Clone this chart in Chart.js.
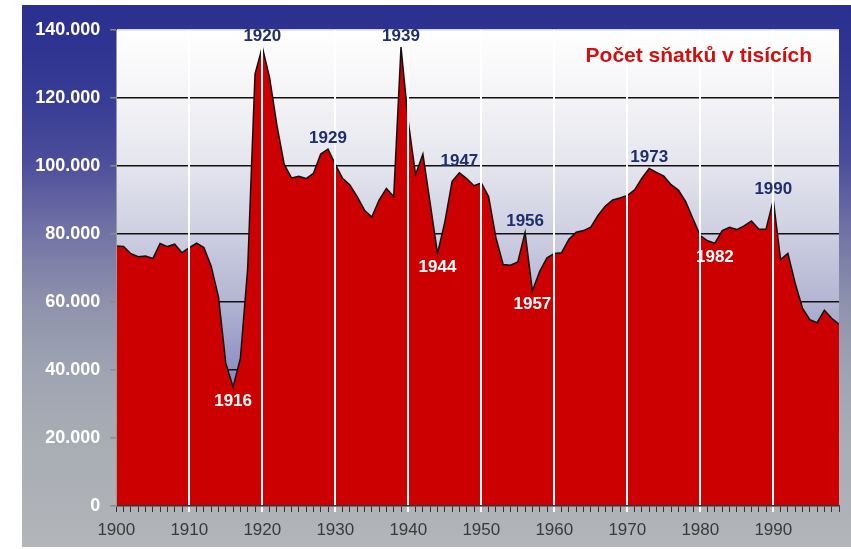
<!DOCTYPE html>
<html><head><meta charset="utf-8">
<script src="https://cdn.jsdelivr.net/npm/chart.js@4"></script>
<style>
html,body{margin:0;padding:0;background:#ffffff;}
#panel{position:absolute;left:22px;top:5px;width:829px;height:542px;
background:linear-gradient(to bottom,#2b2f8e 0%,#2f3492 8%,#383d95 18%,#4c4e9a 29%,#6d6ea4 40%,#8c90ab 54%,#9ea3b2 67%,#a8adb4 80%,#b2b5b9 100%);}
#c{display:block;}
</style></head><body>
<div id="panel"><canvas id="c" width="829" height="542"></canvas></div>
<script>
const years = [];
for (let y = 1900; y <= 1999; y++) years.push(y);

// Počet sňatků (v tisících)
const marriages = [
  76.5, 76.3, 74.2, 73.3, 73.5, 72.8, 77.2, 76.3, 77.0, 74.5,   // 1900-1909
  76.0, 77.3, 76.0, 70.5, 61.5, 42.0, 35.0, 43.5, 70.0, 127.0,  // 1910-1919
  135.0, 126.0, 112.0, 100.5, 96.5, 97.0, 96.3, 97.8, 103.5, 105.0, // 1920-1929
  100.5, 96.4, 94.4, 91.0, 87.0, 85.0, 90.0, 93.4, 91.0, 135.0, // 1930-1939
  113.0, 97.5, 103.5, 89.0, 74.3, 83.5, 95.5, 98.0, 96.3, 94.2, // 1940-1949
  95.0, 91.0, 79.0, 71.0, 70.8, 71.8, 80.5, 63.3, 69.0, 73.0,   // 1950-1959
  74.3, 74.5, 78.5, 80.5, 81.0, 82.0, 85.5, 88.2, 90.0, 90.6,   // 1960-1969
  91.3, 93.0, 96.4, 99.3, 98.1, 97.0, 94.5, 92.9, 89.5, 84.5,   // 1970-1979
  79.5, 78.0, 77.3, 81.0, 82.0, 81.3, 82.4, 83.8, 81.5, 81.4,   // 1980-1989
  90.0, 72.5, 74.3, 65.5, 58.2, 54.8, 53.9, 57.6, 55.2, 53.5    // 1990-1999
];

const yTickLabels = ['0', '20.000', '40.000', '60.000', '80.000', '100.000', '120.000', '140.000'];
const xTickLabels = ['1900', '1910', '1920', '1930', '1940', '1950', '1960', '1970', '1980', '1990'];
const peakYears = [1920, 1929, 1939, 1947, 1956, 1973, 1990];
const troughYears = [1916, 1944, 1957, 1982];
const chartTitle = 'Počet sňatků v tisících';

const FONT = '"Liberation Sans", Arial, Helvetica, sans-serif';

const plotBg = {
  id: 'plotBg',
  beforeDraw(chart) {
    const {ctx, chartArea: a} = chart;
    const g = ctx.createLinearGradient(0, a.top, 0, a.bottom);
    g.addColorStop(0, '#ffffff');
    g.addColorStop(0.15, '#f3f3f6');
    g.addColorStop(0.28, '#e5e6ee');
    g.addColorStop(0.42, '#cfd0e2');
    g.addColorStop(0.57, '#b3b5d3');
    g.addColorStop(0.71, '#8f91c2');
    g.addColorStop(0.8, '#7d80b9');
    g.addColorStop(1, '#6c6fb1');
    ctx.save();
    ctx.fillStyle = g;
    ctx.fillRect(a.left, a.top, a.right - a.left, a.bottom - a.top);
    ctx.restore();
  }
};

const annotate = {
  id: 'annotate',
  afterDraw(chart) {
    const {ctx, chartArea: a} = chart;
    const xs = chart.scales.x, ys = chart.scales.y;
    ctx.save();
    ctx.textAlign = 'center';
    ctx.textBaseline = 'middle';
    ctx.font = 'bold 17px ' + FONT;
    ctx.fillStyle = '#1f2d6c';
    peakYears.forEach(yr => {
      const v = marriages[years.indexOf(yr)];
      ctx.fillText(String(yr), xs.getPixelForValue(yr), ys.getPixelForValue(v) - 11);
    });
    ctx.fillStyle = '#ffffff';
    troughYears.forEach(yr => {
      const v = marriages[years.indexOf(yr)];
      ctx.fillText(String(yr), xs.getPixelForValue(yr), ys.getPixelForValue(v) + 14);
    });
    ctx.font = 'bold 21px ' + FONT;
    ctx.fillStyle = '#d01010';
    ctx.textAlign = 'right';
    ctx.fillText(chartTitle, a.right - 27, a.top + 26);
    ctx.restore();
  }
};

const isDecade = c => c.tick && c.tick.value % 10 === 0 && c.tick.value > 1900;

new Chart(document.getElementById('c'), {
  type: 'line',
  data: {
    datasets: [{
      data: years.map((y, i) => ({x: y, y: marriages[i]})),
      fill: 'origin',
      backgroundColor: '#cc0000',
      borderColor: '#111111',
      borderWidth: 1.5,
      pointRadius: 0,
      tension: 0
    }]
  },
  options: {
    responsive: false,
    animation: false,
    layout: {padding: {top: 25, right: 12, left: 0, bottom: 0}},
    plugins: {legend: {display: false}, tooltip: {enabled: false}, title: {display: false}},
    scales: {
      x: {
        type: 'linear', min: 1900, max: 1999,
        afterFit: s => { s.height = 41; },
        ticks: {
          stepSize: 1, autoSkip: false, maxRotation: 0, minRotation: 0, padding: 8,
          color: '#3a3a3a', font: {family: FONT, size: 17},
          callback: v => (v % 10 === 0 ? xTickLabels[(v - 1900) / 10] : '')
        },
        grid: {
          z: 1, drawTicks: true, tickLength: 6,
          color: c => isDecade(c) ? '#ffffff' : 'rgba(0,0,0,0)',
          lineWidth: c => isDecade(c) ? 2 : 1,
          tickColor: c => isDecade(c) ? '#ffffff' : '#333333'
        },
        border: {display: true, color: '#333333', width: 1.5, z: 1}
      },
      y: {
        min: 0, max: 140,
        afterFit: s => { s.width = 94.3; },
        ticks: {
          stepSize: 20, padding: 10, color: '#ffffff',
          font: {family: FONT, size: 18, weight: 'bold'},
          callback: v => yTickLabels[Math.round(v / 20)]
        },
        grid: {
          tickLength: 6, tickColor: '#8a8a8a', lineWidth: 1.5,
          color: c => (c.tick && c.tick.value === 0) ? 'rgba(0,0,0,0)' : (c.tick && c.tick.value === 140 ? '#d4d4dc' : '#111111')
        },
        border: {display: true, color: '#9a9a9a', width: 1, z: 1}
      }
    }
  },
  plugins: [plotBg, annotate]
});
</script>
</body></html>
